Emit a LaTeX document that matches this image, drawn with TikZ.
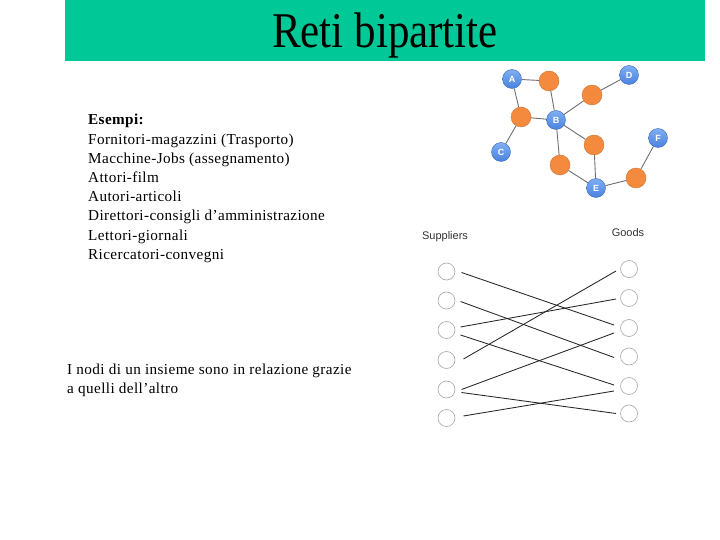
\documentclass[tikz,border=0pt]{standalone}
\usepackage{fontspec}
\setmainfont{Liberation Serif}
\newfontfamily\arialf{Liberation Sans}
\newfontfamily\bodyf[LetterSpace=2.6]{Liberation Serif}
\usetikzlibrary{calc}
\definecolor{titlegreen}{HTML}{00C896}
\definecolor{nblue}{HTML}{4A82E0}
\definecolor{nbluetop}{HTML}{7FAEF2}
\definecolor{norange}{HTML}{F38A3E}
\definecolor{edgegray}{HTML}{707070}
\tikzset{
  bluenode/.style={circle, minimum size=19pt, inner sep=0pt, draw=nblue!80!black, line width=0.4pt,
     top color=nbluetop, bottom color=nblue, text=white, font=\arialf\bfseries\fontsize{9}{9}\selectfont},
  orangenode/.style={circle, minimum size=20pt, inner sep=0pt, draw=norange!85!black, line width=0.4pt, fill=norange},
  gedge/.style={draw=edgegray, line width=0.9pt},
  bnode/.style={circle, minimum size=17pt, inner sep=0pt, draw=gray!70, line width=0.6pt},
  bedge/.style={draw=black!85, line width=0.85pt},
  bodytext/.style={anchor=base west, inner sep=0pt, font=\bodyf\fontsize{15.2}{19}\selectfont},
  smalllabel/.style={inner sep=0pt, font=\arialf\fontsize{11}{12}\selectfont, text=black!80}
}
\begin{document}
\begin{tikzpicture}[x=1pt, y=-1pt]
\useasboundingbox[fill=white] (0,0) rectangle (720,540);
% title bar
\fill[titlegreen] (65,0) rectangle (705,61);
\node[inner sep=0pt, anchor=base] (title) at (385,48) {\scalebox{0.86}[1]{\fontsize{50}{56}\selectfont Reti bipartite}};

% left text
\node[bodytext] (t0) at (88,125) {\textbf{Esempi:}};
\node[bodytext] (t1) at (88,144.2) {Fornitori-magazzini (Trasporto)};
\node[bodytext] (t2) at (88,163.4) {Macchine-Jobs (assegnamento)};
\node[bodytext] (t3) at (88,182.6) {Attori-film};
\node[bodytext] (t4) at (88,201.8) {Autori-articoli};
\node[bodytext] (t5) at (88,221) {Direttori-consigli d’amministrazione};
\node[bodytext] (t6) at (88,240.2) {Lettori-giornali};
\node[bodytext] (t7) at (88,259.4) {Ricercatori-convegni};

\node[bodytext] (u1) at (67,374) {I nodi di un insieme sono in relazione grazie};
\node[bodytext] (u2) at (67,393) {a quelli dell’altro};

% small graph
\node[bluenode] (A) at (512,79) {A};
\node[bluenode] (B) at (556,120) {B};
\node[bluenode] (C) at (501,152) {C};
\node[bluenode] (D) at (629,75) {D};
\node[bluenode] (E) at (596,188) {E};
\node[bluenode] (F) at (658,138) {F};
\node[orangenode] (o1) at (549,81) {};
\node[orangenode] (o2) at (592,95) {};
\node[orangenode] (o3) at (521,117) {};
\node[orangenode] (o4) at (594,145) {};
\node[orangenode] (o5) at (560,165) {};
\node[orangenode] (o6) at (636,178) {};
\draw[gedge] (A) -- (o1);
\draw[gedge] (A) -- (o3);
\draw[gedge] (o1) -- (B);
\draw[gedge] (o3) -- (B);
\draw[gedge] (o3) -- (C);
\draw[gedge] (B) -- (o2);
\draw[gedge] (o2) -- (D);
\draw[gedge] (B) -- (o4);
\draw[gedge] (B) -- (o5);
\draw[gedge] (o4) -- (E);
\draw[gedge] (o5) -- (E);
\draw[gedge] (E) -- (o6);
\draw[gedge] (o6) -- (F);

% bipartite
\node[smalllabel] (sup) at (445,237) {Suppliers};
\node[smalllabel] (goods) at (628,233) {Goods};
\node[bnode] (l1) at (446.5,271.5) {};
\node[bnode] (l2) at (446.5,300.5) {};
\node[bnode] (l3) at (446.5,330) {};
\node[bnode] (l4) at (446.5,360) {};
\node[bnode] (l5) at (446.5,389.5) {};
\node[bnode] (l6) at (446.5,418) {};
\node[bnode] (r1) at (629,269) {};
\node[bnode] (r2) at (629,298) {};
\node[bnode] (r3) at (629,328) {};
\node[bnode] (r4) at (629,356.5) {};
\node[bnode] (r5) at (629,386) {};
\node[bnode] (r6) at (629,413.5) {};
\draw[bedge] ($(l1)+(15,1)$) -- ($(r3)+(-15,-3)$);
\draw[bedge] ($(l2)+(14,1)$) -- ($(r4)+(-15,1)$);
\draw[bedge] ($(l3)+(14,-3)$) -- ($(r2)+(-13,1)$);
\draw[bedge] ($(l3)+(14,5)$) -- ($(r5)+(-15,-1)$);
\draw[bedge] ($(l4)+(17,-1)$) -- ($(r1)+(-13,2)$);
\draw[bedge] ($(l5)+(15,0)$) -- ($(r3)+(-15,5)$);
\draw[bedge] ($(l5)+(15,3)$) -- ($(r6)+(-13,0)$);
\draw[bedge] ($(l6)+(17,-2)$) -- ($(r5)+(-15,5)$);
\end{tikzpicture}
\end{document}
